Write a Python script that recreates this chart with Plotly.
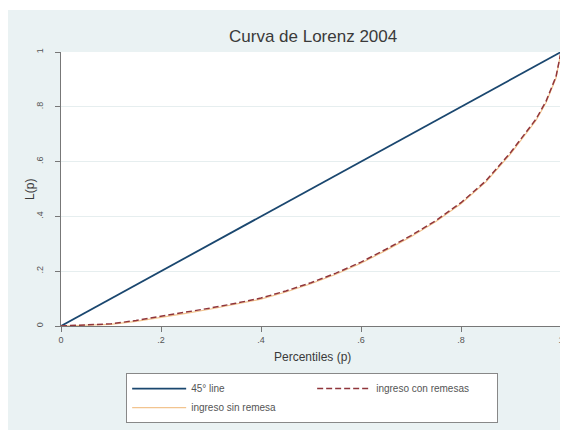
import plotly.graph_objects as go

# ─── Data ─────────────────────────────────────────────────────────────────────
p = [0, 0.05, 0.1, 0.15, 0.2, 0.25, 0.3, 0.35, 0.4, 0.45, 0.5, 0.55, 0.6,
     0.65, 0.7, 0.75, 0.8, 0.85, 0.9, 0.95, 0.97, 0.99, 1.0]
L_con = [0, 0.003, 0.008, 0.02, 0.035, 0.05, 0.066, 0.083, 0.102, 0.128,
         0.158, 0.193, 0.233, 0.28, 0.33, 0.385, 0.45, 0.53, 0.635, 0.755,
         0.82, 0.91, 1.0]
L_sin = [0, 0.002, 0.006, 0.017, 0.031, 0.046, 0.062, 0.079, 0.098, 0.124,
         0.154, 0.189, 0.229, 0.276, 0.326, 0.381, 0.446, 0.526, 0.63, 0.75,
         0.815, 0.905, 1.0]
diag = [0, 1]
tick_vals = [0, 0.2, 0.4, 0.6, 0.8, 1]
tick_text = ["0", ".2", ".4", ".6", ".8", "1"]

FONT = "Liberation Sans, Arial, sans-serif"
BG = "#eaf2f3"

fig = go.Figure()
fig.add_trace(go.Scatter(
    x=diag, y=diag, mode="lines",
    line=dict(color="#1a476f", width=1.8),
    name="45° line", legendrank=1, cliponaxis=False
))
fig.add_trace(go.Scatter(
    x=p, y=L_sin, mode="lines",
    line=dict(color="#f2c48f", width=1.2),
    name="ingreso sin remesa", legendrank=3
))
fig.add_trace(go.Scatter(
    x=p, y=L_con, mode="lines",
    line=dict(color="#90353b", width=1.5, dash="6px,3px"),
    name="ingreso con remesas", legendrank=2
))

# Outer light background (Stata-like graph region) + white plot region
fig.add_shape(type="rect", xref="paper", yref="paper",
              x0=-0.108, x1=1.006, y0=-0.38, y1=1.153,
              fillcolor=BG, line_width=0, layer="below")
fig.add_shape(type="rect", xref="paper", yref="paper",
              x0=0, x1=1.006, y0=0, y1=1,
              fillcolor="white", line_width=0, layer="below")

# Title and axis titles
fig.add_annotation(text="Curva de Lorenz 2004", xref="paper", yref="paper",
                   x=0.502, y=1.055, xanchor="center", yanchor="middle",
                   showarrow=False,
                   font=dict(size=17, color="#3a3a3a", family=FONT))
fig.add_annotation(text="Percentiles (p)", xref="paper", yref="paper",
                   x=0.502, y=-0.113, xanchor="center", yanchor="middle",
                   showarrow=False,
                   font=dict(size=12, color="#3a3a3a", family=FONT))
fig.add_annotation(text="L(p)", xref="paper", yref="paper",
                   x=-0.062, y=0.5, xanchor="center", yanchor="middle",
                   showarrow=False, textangle=-90,
                   font=dict(size=12, color="#3a3a3a", family=FONT))

axis_common = dict(
    tickvals=tick_vals, ticktext=tick_text,
    ticks="outside", ticklen=5, tickcolor="#777", tickwidth=1,
    showline=True, linecolor="#777", linewidth=1.2,
    tickfont=dict(size=9, color="#555", family=FONT),
    zeroline=False, automargin=False, ticklabeloverflow="allow",
)

# page body adds an 8px offset, so figure is 560x428
fig.update_layout(
    width=560, height=428,
    margin=dict(l=53, r=6, t=44, b=110, autoexpand=False),
    paper_bgcolor="white",
    plot_bgcolor="white",
    xaxis=dict(**axis_common, range=[0, 1.002], showgrid=False),
    yaxis=dict(**axis_common, range=[0, 1], showgrid=True,
               gridcolor="#e6eeef", tickangle=-90, ticklabelstandoff=8),
    legend=dict(
        orientation="h", xref="container", yref="container",
        x=0.211, y=0.147, xanchor="left", yanchor="top",
        entrywidth=116, entrywidthmode="pixels", itemwidth=54,
        bgcolor="white", bordercolor="#888", borderwidth=1,
        font=dict(size=10, color="#555", family=FONT),
        tracegroupgap=0,
    ),
    font=dict(family=FONT),
)

fig.write_html("out.html")
